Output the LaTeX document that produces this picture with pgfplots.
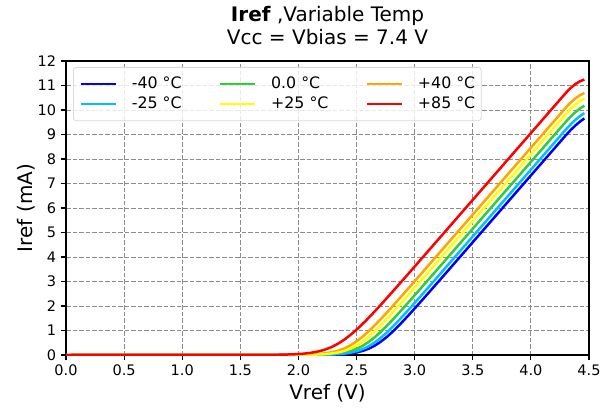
\documentclass[border=0pt]{standalone}
\usepackage{pgfplots}
\pgfplotsset{compat=1.18}
\usepackage{fontspec}
\setmainfont{DejaVu Sans}
\definecolor{cA}{RGB}{0,0,255}
\definecolor{cB}{RGB}{0,191,255}
\definecolor{cC}{RGB}{50,205,50}
\definecolor{cD}{RGB}{255,255,0}
\definecolor{cE}{RGB}{255,165,0}
\definecolor{cF}{RGB}{255,0,0}
\begin{document}
\begin{tikzpicture}
\begin{axis}[name=ax, scale only axis, width=523bp, height=294bp,
  xmin=0, xmax=4.5, ymin=0, ymax=12,
  xtick={0,0.5,1,1.5,2,2.5,3,3.5,4,4.5},
  xticklabels={0.0,0.5,1.0,1.5,2.0,2.5,3.0,3.5,4.0,4.5},
  ytick={0,1,2,3,4,5,6,7,8,9,10,11,12},
  yticklabels={0,1,2,3,4,5,6,7,8,9,10,11,12},
  tick align=outside, tick pos=left, major tick length=5bp,
  tick style={black, line width=1.1bp},
  axis line style={black, line width=1.1bp},
  grid=major,
  major grid style={black!45, line width=0.8bp, dash pattern=on 4.5bp off 2bp},
  ticklabel style={font=\fontsize{14.5bp}{17bp}\selectfont, inner sep=0pt},
  xticklabel style={anchor=north, yshift=-4.7bp},
  yticklabel style={anchor=east, xshift=-4.8bp},
  title={\textbf{Iref} ,Variable Temp\\Vcc = Vbias = 7.4 V},
  title style={font=\fontsize{20bp}{23bp}\selectfont, align=center, at={(axis description cs:0.5,1)}, anchor=south, inner sep=0pt, yshift=10bp},
  xlabel={Vref (V)},
  xlabel style={font=\fontsize{20bp}{24bp}\selectfont, at={(axis description cs:0.5,-0.1497)}, anchor=base, inner sep=0pt},
  ylabel={Iref (mA)},
  ylabel style={font=\fontsize{20bp}{24bp}\selectfont, at={(axis description cs:-0.065,0.5)}, anchor=base, inner sep=0pt},
  legend columns=3, legend cell align=left,
  legend image code/.code={\draw[#1] (0bp,0bp) -- (35bp,0bp);},
  legend style={at={(axis description cs:0.0134,0.9796)}, anchor=north west,
    draw=black!15, line width=0.8bp, rounded corners=3bp, fill=white, fill opacity=0.8, text opacity=1,
    inner xsep=6bp, inner ysep=10bp, font=\fontsize{15.8bp}{18bp}\selectfont,
    row sep=6.7bp, column sep=0pt,
    nodes={inner sep=0pt, text height=11.3bp, text depth=2bp},
    /tikz/every odd column/.append style={column sep=15bp},
    /tikz/every even column/.append style={column sep=37bp}},
]
\addplot[color=cA, line width=2.5bp] coordinates {(0,0) (2.055,0.0014) (2.155,0.0037) (2.255,0.0099) (2.355,0.0265) (2.405,0.0430) (2.455,0.0692) (2.505,0.1098) (2.555,0.1707) (2.605,0.2584) (2.655,0.3778) (2.705,0.5309) (2.755,0.7157) (2.805,0.9273) (2.855,1.1592) (2.905,1.4055) (2.955,1.6615) (3.055,2.1899) (3.155,2.7287) (3.2,2.970) (3.6,5.150) (4.0,7.330) (4.3,8.965) (4.34,9.172) (4.38,9.356) (4.42,9.518) (4.46,9.657)};
\addlegendentry{-40 °C}
\addplot[color=cC, line width=2.5bp] coordinates {(0,0) (1.954,0.0014) (2.054,0.0037) (2.154,0.0099) (2.254,0.0265) (2.304,0.0430) (2.354,0.0692) (2.404,0.1098) (2.454,0.1707) (2.504,0.2584) (2.554,0.3778) (2.604,0.5309) (2.654,0.7157) (2.704,0.9273) (2.754,1.1592) (2.804,1.4055) (2.854,1.6615) (2.954,2.1899) (3.054,2.7287) (3.2,3.521) (3.6,5.701) (4.0,7.881) (4.3,9.516) (4.34,9.721) (4.38,9.899) (4.42,10.052) (4.46,10.178)};
\addlegendentry{0.0 °C}
\addplot[color=cE, line width=2.5bp] coordinates {(0,0) (1.818,0.0014) (1.923,0.0038) (2.028,0.0104) (2.133,0.0278) (2.1855,0.0451) (2.238,0.0726) (2.2905,0.1153) (2.343,0.1793) (2.3955,0.2713) (2.448,0.3967) (2.5005,0.5575) (2.553,0.7516) (2.6055,0.9737) (2.658,1.2172) (2.7105,1.4759) (2.763,1.7447) (2.868,2.2996) (2.973,2.8653) (3.2,4.098) (3.6,6.278) (4.0,8.458) (4.3,10.093) (4.34,10.294) (4.38,10.462) (4.42,10.595) (4.46,10.695)};
\addlegendentry{+40 °C}
\addplot[color=cB, line width=2.5bp] coordinates {(0,0) (2.012,0.0014) (2.112,0.0037) (2.212,0.0099) (2.312,0.0265) (2.362,0.0430) (2.412,0.0692) (2.462,0.1098) (2.512,0.1707) (2.562,0.2584) (2.612,0.3778) (2.662,0.5309) (2.712,0.7157) (2.762,0.9273) (2.812,1.1592) (2.862,1.4055) (2.912,1.6615) (3.012,2.1899) (3.112,2.7287) (3.2,3.205) (3.6,5.385) (4.0,7.565) (4.3,9.200) (4.34,9.405) (4.38,9.586) (4.42,9.741) (4.46,9.872)};
\addlegendentry{-25 °C}
\addplot[color=cD, line width=2.5bp] coordinates {(0,0) (1.897,0.0014) (1.997,0.0037) (2.097,0.0099) (2.197,0.0265) (2.247,0.0430) (2.297,0.0692) (2.347,0.1098) (2.397,0.1707) (2.447,0.2584) (2.497,0.3778) (2.547,0.5309) (2.597,0.7157) (2.647,0.9273) (2.697,1.1592) (2.747,1.4055) (2.797,1.6615) (2.897,2.1899) (2.997,2.7287) (3.2,3.831) (3.6,6.011) (4.0,8.191) (4.3,9.826) (4.34,10.030) (4.38,10.207) (4.42,10.356) (4.46,10.478)};
\addlegendentry{+25 °C}
\addplot[color=cF, line width=2.5bp] coordinates {(0,0) (1.618,0.0016) (1.738,0.0044) (1.858,0.0119) (1.978,0.0318) (2.038,0.0516) (2.098,0.0830) (2.158,0.1317) (2.218,0.2049) (2.278,0.3100) (2.338,0.4533) (2.398,0.6370) (2.458,0.8589) (2.518,1.1127) (2.578,1.3910) (2.638,1.6866) (2.698,1.9938) (2.818,2.6279) (2.938,3.2744) (3.2,4.698) (3.6,6.878) (4.0,9.058) (4.3,10.693) (4.34,10.891) (4.38,11.049) (4.42,11.167) (4.46,11.245)};
\addlegendentry{+85 °C}
\end{axis}
\path ([shift={(-66bp,-54bp)}]ax.south west) rectangle ([shift={(12bp,61bp)}]ax.north east);
\end{tikzpicture}
\end{document}
